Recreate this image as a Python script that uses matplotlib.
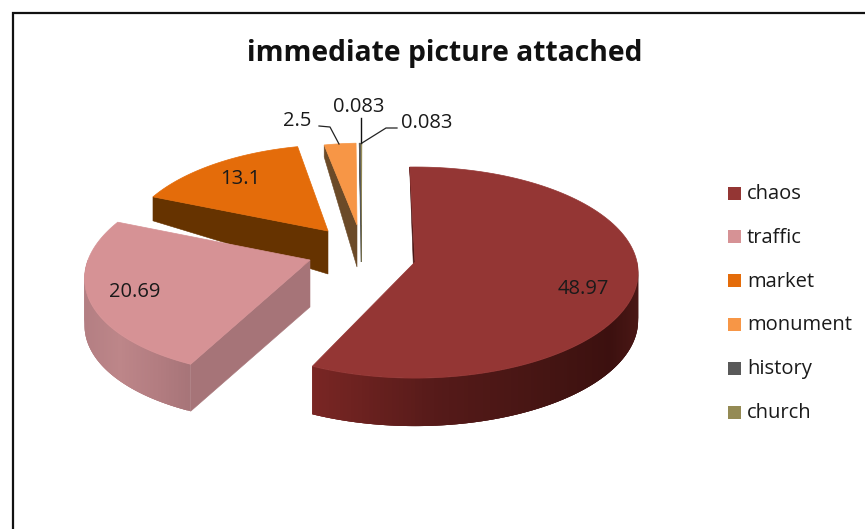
import numpy as np
import matplotlib
matplotlib.use("Agg")
import matplotlib.pyplot as plt
from matplotlib.patches import Polygon, Rectangle
from matplotlib.collections import PolyCollection
from matplotlib.colors import to_rgb

categories = ["chaos", "traffic", "market", "monument", "history", "church"]
values = [48.97, 20.69, 13.1, 2.5, 0.083, 0.083]
value_labels = ["48.97", "20.69", "13.1", "2.5", "0.083", "0.083"]
top_colors = ["#943634", "#D69295", "#E46C0A", "#F79646", "#595959", "#948A54"]

# Exploded slice layout, in pixels of the 865x529 canvas.
apex_x = [415, 310, 328, 357, 361, 361.5]
apex_y = [262, 260, 231, 225, 225, 225]
radius = [1.0, 1.0, 0.90, 0.85, 0.85, 0.85]
shear = [0.0, -0.16, -0.12, -0.07, -0.06, -0.06]
depth = [48, 47, 43, 42, 37, 37]
RX, RY, PERSP = 222.0, 104.5, 0.10
START_DEG = -1.5


def project(i, theta_deg, r=None):
    """Map a clockwise-from-top angle on a tilted disc to canvas pixels."""
    r = radius[i] if r is None else r
    t = np.radians(theta_deg)
    u, v = r * np.sin(t), r * np.cos(t)
    w = 1 + PERSP * v
    dy = -RY * v / w
    return apex_x[i] + RX * u / w + shear[i] * dy, apex_y[i] + dy


def blend(stops, x):
    xs, cols = zip(*stops)
    rgb = np.array([to_rgb(c) for c in cols])
    return tuple(np.interp(x, xs, rgb[:, k]) for k in range(3))


fig = plt.figure(figsize=(8.65, 5.29), dpi=100, facecolor="white")
ax = fig.add_axes([0, 0, 1, 1])
ax.set_xlim(0, 865)
ax.set_ylim(529, 0)
ax.axis("off")

shares = np.asarray(values) / np.sum(values) * 360.0
ends = START_DEG + np.cumsum(shares)
starts = ends - shares


def top_face(i, z):
    th = np.linspace(starts[i], ends[i], 120)
    xs, ys = project(i, th)
    pts = np.column_stack([np.r_[apex_x[i], xs], np.r_[apex_y[i], ys]])
    ax.add_patch(Polygon(pts, closed=True, fc=top_colors[i], ec=top_colors[i],
                         lw=0.5, zorder=z))


def rim(i, th0, th1, stops, z):
    # Each strip overlaps the next one so no seams show through the shading.
    th = np.linspace(th0, th1, 130)
    xs, ys = project(i, th)
    quads, cols = [], []
    for k in range(len(th) - 1):
        n = min(k + 3, len(th) - 1)
        quads.append([(xs[k], ys[k]), (xs[n], ys[n]),
                      (xs[n], ys[n] + depth[i]), (xs[k], ys[k] + depth[i])])
        cols.append(blend(stops, (xs[k] + xs[k + 1]) / 2))
    ax.add_collection(PolyCollection(quads, facecolors=cols, edgecolors="none",
                                     zorder=z))


def cut_face(i, theta, color, far_depth, z):
    x, y = project(i, theta)
    pts = [(apex_x[i], apex_y[i]), (x, y), (x, y + far_depth),
           (apex_x[i], apex_y[i] + depth[i])]
    ax.add_patch(Polygon(pts, closed=True, fc=color, ec=color, lw=0.4, zorder=z))


# Slices are painted far to near: monument group, market, chaos, traffic.
for i, col in ((5, "#7d7548"), (4, "#555555")):
    cut_face(i, starts[i], col, 4, 2)
    top_face(i, 3)

cut_face(3, starts[3], "#6b4a28", 12, 2)
top_face(3, 3)

cut_face(2, starts[2], "#663300", 24, 4)
top_face(2, 5)

rim(0, 90, ends[0], [(312, "#7a2624"), (345, "#702321"), (440, "#551a19"),
                     (560, "#431412"), (610, "#3c100f"), (640, "#4b1816")], 6)
top_face(0, 7)
cut_face(0, starts[0], "#4a1614", 2, 6)

cut_face(1, starts[1], "#A67478", depth[1], 8)
rim(1, starts[1], 270, [(86, "#b47f83"), (120, "#bd8689"), (160, "#b27c80"),
                        (192, "#a67478")], 8)
top_face(1, 9)

# Data labels and their leader lines.
text_kw = dict(family="Open Sans", color="#1a1a1a", va="center", zorder=12)
label_size = 14.5
ax.text(583, 288.5, value_labels[0], ha="center", fontsize=label_size, **text_kw)
ax.text(135, 292, value_labels[1], ha="center", fontsize=label_size, **text_kw)
ax.text(240, 179, value_labels[2], ha="center", fontsize=label_size, **text_kw)
ax.text(297, 121, value_labels[3], ha="center", fontsize=label_size, **text_kw)
ax.text(359, 107.5, value_labels[4], ha="center", fontsize=label_size, **text_kw)
ax.text(427, 123.5, value_labels[5], ha="center", fontsize=label_size, **text_kw)

ax.plot([319, 330, 339], [126, 127, 144], color="#222222", lw=0.9, zorder=11)
ax.plot([361, 361], [118, 143], color="#111111", lw=1.0, zorder=11)
ax.plot([397, 386, 362], [128, 128, 143], color="#222222", lw=0.9, zorder=11)

# Legend swatches and names, evenly spaced down the right side.
legend_y = np.linspace(193, 412, len(categories))
for name, col, y in zip(categories, top_colors, legend_y):
    ax.add_patch(Rectangle((728, y - 6.5), 13, 13, fc=col, ec="none", zorder=10))
    ax.text(747, y + 1, name, ha="left", fontsize=label_size, **text_kw)

ax.text(444.5, 53, "immediate picture attached", ha="center", va="center",
        family="Open Sans", fontweight="bold", fontsize=20.3, color="#111111")

# Outer frame: only the top and left edges are drawn.
ax.plot([12.5, 12.5, 865], [529, 12.5, 12.5], color="#111111", lw=1.6,
        solid_joinstyle="miter", zorder=20)

fig.savefig("out.png", dpi=100, facecolor="white")
